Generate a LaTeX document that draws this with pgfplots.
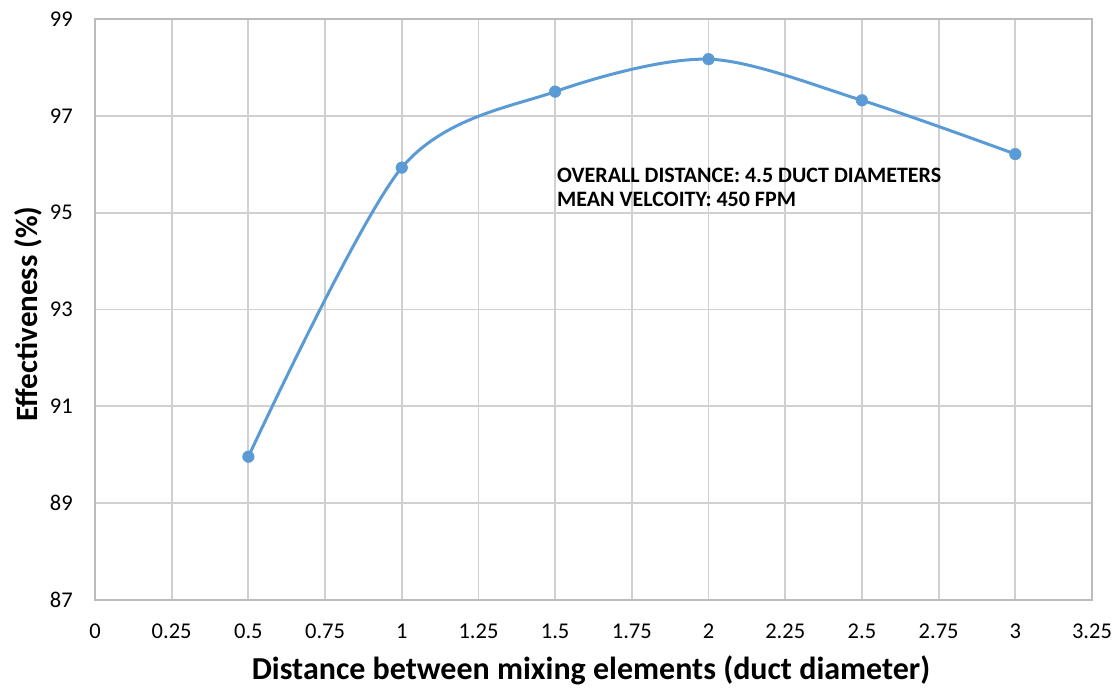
\documentclass[border=0pt]{standalone}
\usepackage{fontspec}
\setmainfont{Carlito}
\usepackage{pgfplots}
\pgfplotsset{compat=1.18}
\definecolor{excelblue}{HTML}{5B9BD5}
\definecolor{gridgray}{HTML}{D0D0D0}
\definecolor{framegray}{HTML}{BCBCBC}
\begin{document}
\begin{tikzpicture}[x=1pt,y=1pt]
\useasboundingbox (0,0) rectangle (1114,690);
\begin{axis}[
  at={(95pt,90pt)}, anchor=south west,
  scale only axis, width=997pt, height=581pt,
  xmin=0, xmax=3.25, ymin=87, ymax=99,
  xtick={0,0.25,...,3.25},
  xticklabels={0,0.25,0.5,0.75,1,1.25,1.5,1.75,2,2.25,2.5,2.75,3,3.25},
  ytick={87,89,...,99},
  grid=major,
  major grid style={gridgray, line width=1.8pt},
  axis line style={framegray, line width=2pt},
  major tick length=0pt,
  /pgf/number format/assume math mode=true,
  tick label style={font=\fontsize{22.5}{26}\selectfont, inner sep=0pt, text=black},
  yticklabel style={anchor=east, xshift=-22pt},
  xticklabel style={anchor=north, yshift=-24pt},
  xlabel={Distance between mixing elements (duct diameter)},
  ylabel={Effectiveness (\%)},
  x label style={font=\fontsize{32}{36}\selectfont\bfseries,
    at={(axis description cs:0.4975,0)}, anchor=center, yshift=-70pt},
  y label style={font=\fontsize{31}{35}\selectfont\bfseries,
    at={(axis description cs:-0.0672,0.4923)}, anchor=center},
]
\addplot[excelblue, line width=3pt, smooth, tension=0.5,
  mark=*, mark size=5.8pt, mark options={fill=excelblue, draw=excelblue, line width=0.5pt}]
  coordinates {(0.5,89.96) (1,95.93) (1.5,97.50) (2,98.17) (2.5,97.32) (3,96.21)};
\node[anchor=base west, inner sep=0pt, font=\fontsize{22}{26}\selectfont\bfseries]
  at (axis cs:1.506,95.633) {OVERALL DISTANCE: 4.5 DUCT DIAMETERS};
\node[anchor=base west, inner sep=0pt, font=\fontsize{22}{26}\selectfont\bfseries]
  at (axis cs:1.506,95.117) {MEAN VELCOITY: 450 FPM};
\end{axis}
\end{tikzpicture}
\end{document}
